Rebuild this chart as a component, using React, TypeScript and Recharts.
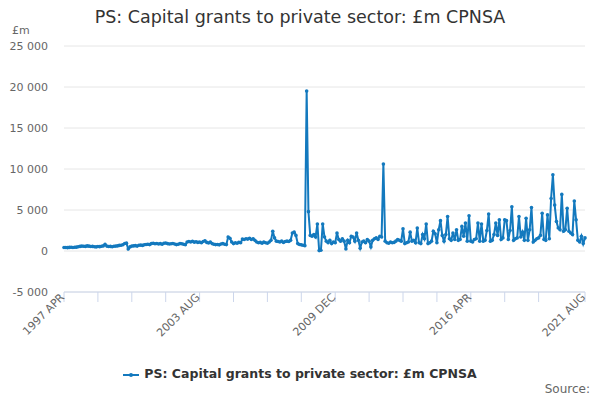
import { CartesianGrid, Line, LineChart, XAxis, YAxis } from "recharts";

const TITLE = "PS: Capital grants to private sector: £m CPNSA";
const SERIES_NAME = "PS: Capital grants to private sector: £m CPNSA";
const UNIT = "£m";

const MONTH_NAMES = ["JAN", "FEB", "MAR", "APR", "MAY", "JUN", "JUL", "AUG", "SEP", "OCT", "NOV", "DEC"];
const START_YEAR = 1997;
const START_MONTH = 3; // APR

// monthly values, £m, 1997 APR .. 2021 AUG
const VALUES = [
  420, 430, 410, 440, 450, 430, 450, 470, 520, 560,
  600, 580, 560, 620, 590, 540, 560, 520, 500, 550,
  530, 580, 620, 820, 600, 540, 560, 520, 580, 600,
  620, 680, 700, 760, 920, 960, 250, 500, 600, 620,
  650, 600, 700, 720, 680, 760, 800, 820, 780, 900,
  950, 880, 920, 860, 900, 820, 950, 980, 900, 860,
  880, 920, 850, 780, 830, 900, 880, 820, 760, 1100,
  1150, 1100, 1180, 1080, 1120, 1050, 1100, 1000, 1150, 1250,
  1050, 980, 1100, 900, 820, 780, 800, 750, 850, 900,
  820, 780, 1700, 1550, 1100, 900, 1000, 950, 1050, 1000,
  1450, 1400, 1500, 1450, 1550, 1400, 1500, 1300, 1100, 1000,
  1050, 950, 1100, 1000, 950, 1100, 1300, 2400, 1600, 1200,
  1150, 1100, 1200, 1050, 1150, 1200, 1150, 1300, 2200, 2300,
  1900, 900, 800, 750, 700, 650, 19500, 4800, 1900, 1800,
  2000, 1700, 3300, 50, 100, 3300, 1700, 1200, 1000, 1300,
  900, 1100, 1000, 2200, 1400, 1200, 1500, 1200, 250, 1300,
  1000, 1800, 1700, 1200, 2200, 1300, 350, 1100, 1200, 1000,
  1400, 1200, 500, 1300, 1500, 1600, 1400, 1800, 1700, 10600,
  1200, 1000, 950, 1100, 1000, 1050, 1200, 1400, 1300, 1200,
  2700, 900, 1000, 1100, 2300, 1200, 1300, 1000, 2800, 1000,
  900, 2000, 1500, 3300, 900, 1000, 1200, 2400, 2100, 1000,
  2600, 3700, 1900, 1200, 2000, 4200, 1500, 1300, 2200, 1400,
  2600, 1300, 1400, 3000, 1800, 3400, 1200, 4300, 1200, 1100,
  1400, 1500, 3400, 1200, 3300, 1200, 1300, 2500, 4500, 1200,
  1300, 2000, 3400, 1900, 3800, 1400, 1600, 3800, 3700, 1400,
  2500, 5400, 1300, 1500, 1600, 4200, 1700, 2300, 1300, 4000,
  1300, 2600, 5300, 1100, 1300, 1500, 1600, 1900, 4600, 1400,
  1300, 4400, 1500, 6400, 9300, 5600, 3600, 2800, 2600, 6900,
  2400, 2600, 5200, 2400, 2200, 2000, 6100, 3800, 1300, 1100,
  1800, 900, 1600,
];

const MONTHS = VALUES.map((_, i) => {
  const m = START_MONTH + i;
  return `${START_YEAR + Math.floor(m / 12)} ${MONTH_NAMES[m % 12]}`;
});

const X_LABELS = ["1997 APR", "2003 AUG", "2009 DEC", "2016 APR", "2021 AUG"];
// tick marks every 19 months, plus the last month
const X_TICKS = [...MONTHS.filter((_, i) => i % 19 === 0 && i < MONTHS.length - 19), MONTHS[MONTHS.length - 1]];
const Y_TICKS = [-5000, 0, 5000, 10000, 15000, 20000, 25000];

const data = MONTHS.map((month, i) => ({ month, value: VALUES[i] }));

const BLUE = "#1379be";
const FONT = "'DejaVu Sans', sans-serif";

const fmt = (v: number) => {
  const s = Math.abs(v).toString().replace(/\B(?=(\d{3})+(?!\d))/g, " ");
  return v < 0 ? `-${s}` : s;
};

const XTick = (props: any) => {
  const { x, y, payload } = props;
  if (!X_LABELS.includes(payload.value)) return null;
  const ax = x + 1;
  const ay = y - 4;
  return (
    <text
      x={ax}
      y={ay}
      textAnchor="end"
      transform={`rotate(-45 ${ax} ${ay})`}
      fontSize={11}
      fontFamily={FONT}
      fill="#666666"
    >
      {payload.value}
    </text>
  );
};

export default function App() {
  return (
    <div
      style={{
        position: "absolute",
        left: 0,
        top: 0,
        width: 600,
        height: 400,
        fontFamily: FONT,
        background: "#ffffff",
      }}
    >
      <div
        style={{
          position: "absolute",
          top: 7,
          left: 0,
          width: 600,
          textAlign: "center",
          fontSize: 17.5,
          color: "#333333",
        }}
      >
        {TITLE}
      </div>
      <div style={{ position: "absolute", top: 24, left: 12, fontSize: 11, color: "#666666" }}>{UNIT}</div>

      <LineChart width={600} height={400} data={data} margin={{ top: 46, right: 15, bottom: 0, left: 4 }}>
        <CartesianGrid vertical={false} stroke="#e6e6e6" />
        <XAxis
          dataKey="month"
          ticks={X_TICKS}
          interval={0}
          height={108}
          tick={<XTick />}
          tickSize={10}
          tickMargin={0}
          tickLine={{ stroke: "#ccd6eb" }}
          axisLine={{ stroke: "#ccd6eb" }}
        />
        <YAxis
          width={60}
          domain={[-5000, 25000]}
          ticks={Y_TICKS}
          interval={0}
          tickFormatter={fmt}
          axisLine={false}
          tickLine={false}
          tickSize={0}
          tickMargin={16}
          tick={{ fontSize: 11, fill: "#666666", fontFamily: FONT }}
        />
        <Line
          type="linear"
          dataKey="value"
          stroke={BLUE}
          strokeWidth={2}
          dot={{ r: 1.8, fill: BLUE, stroke: "none" }}
          isAnimationActive={false}
        />
      </LineChart>

      <div
        style={{
          position: "absolute",
          top: 366,
          left: 0,
          width: 600,
          textAlign: "center",
          fontSize: 12.5,
          fontWeight: "bold",
          color: "#333333",
        }}
      >
        <svg width={16} height={10} style={{ verticalAlign: "middle", marginRight: 5 }}>
          <line x1={0} y1={5} x2={16} y2={5} stroke={BLUE} strokeWidth={2} />
          <circle cx={8} cy={5} r={2} fill={BLUE} />
        </svg>
        {SERIES_NAME}
      </div>
      <div style={{ position: "absolute", top: 382, right: 10, fontSize: 12, color: "#666666" }}>Source:</div>
    </div>
  );
}
